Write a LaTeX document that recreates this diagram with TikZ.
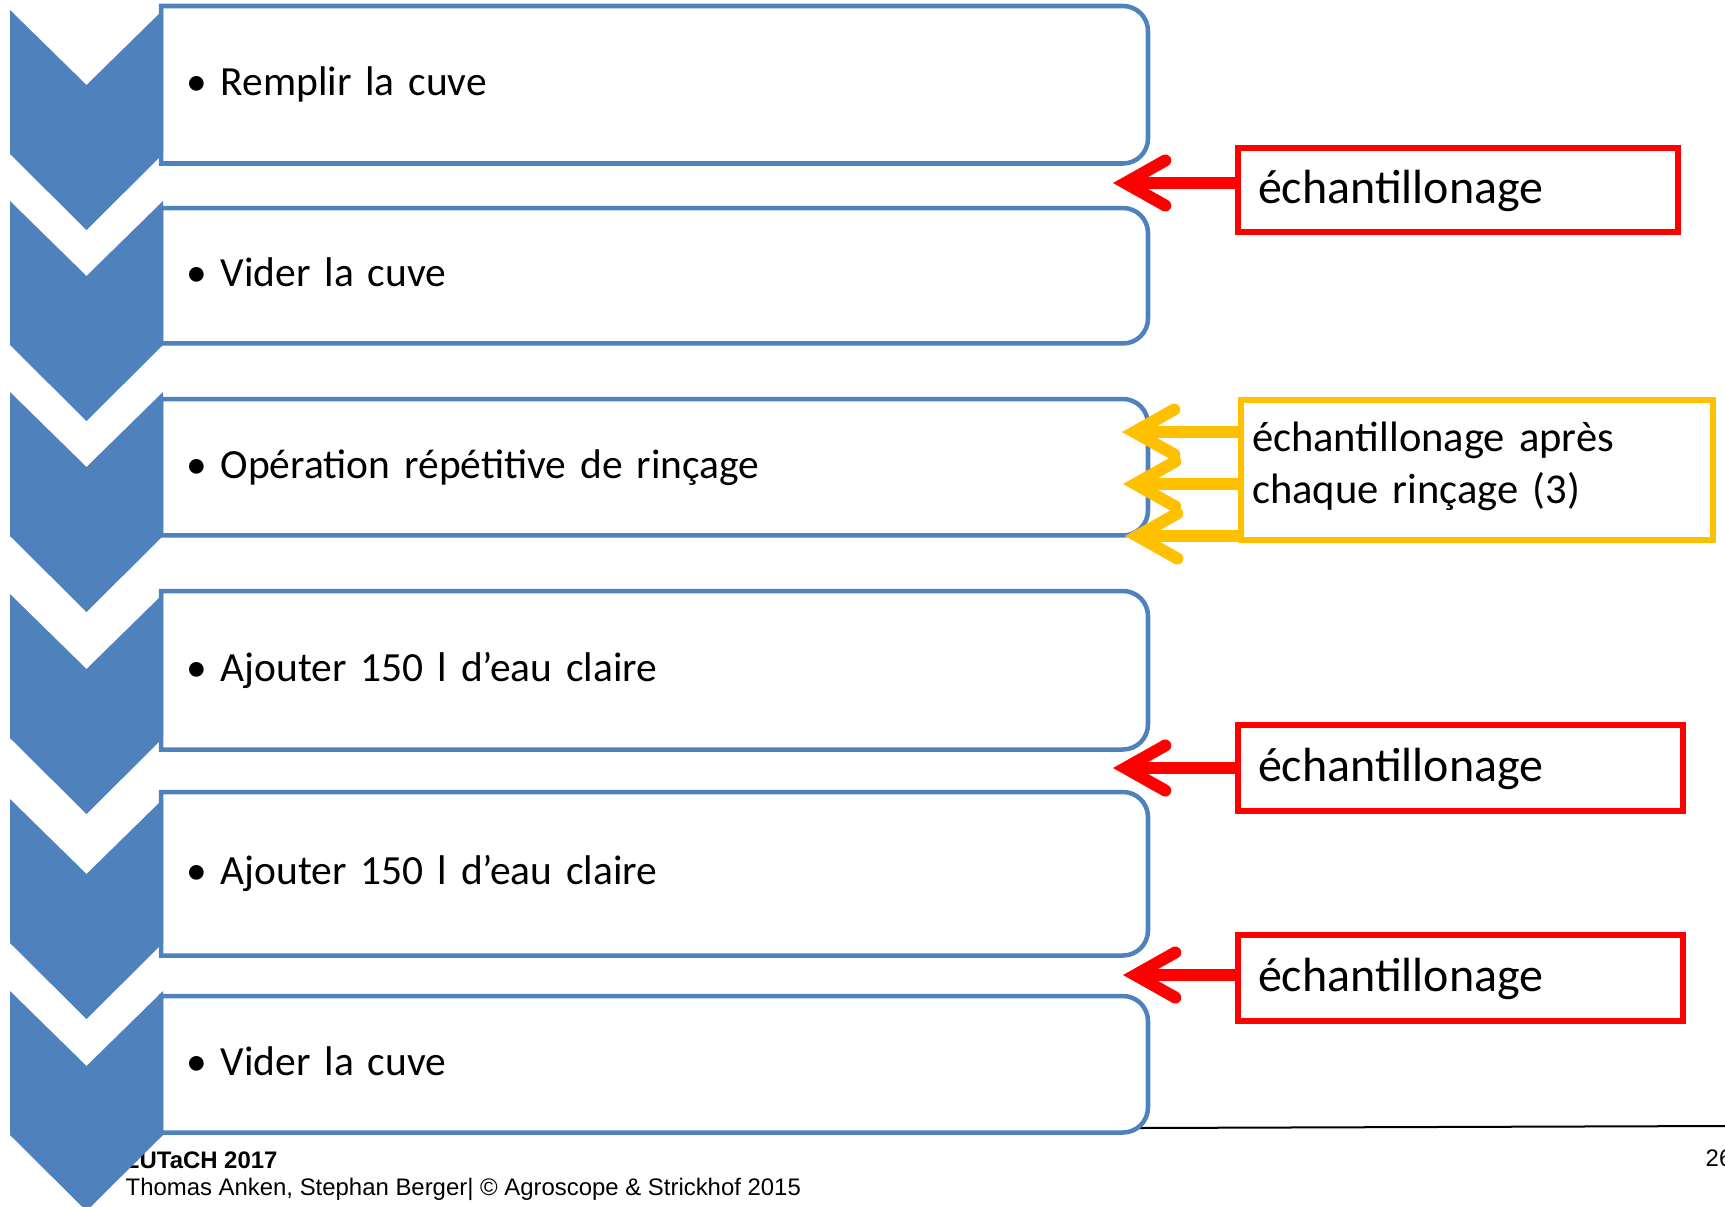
\documentclass[tikz,border=0pt]{standalone}
\usepackage{fontspec}
\setmainfont{Carlito}
\newfontfamily\footfont{Liberation Sans}
\usetikzlibrary{arrows.meta}
\usetikzlibrary{positioning}
\definecolor{stepblue}{HTML}{4F81BD}
\definecolor{markred}{HTML}{FF0000}
\definecolor{markyellow}{HTML}{FFC000}

\begin{document}
\begin{tikzpicture}[x=0.01cm,y=-0.01cm,
stepbox/.style={anchor=north west,inner xsep=0.25cm,inner ysep=0pt,text width=9.35cm,align=left,font=\fontsize{11.8}{14.2}\selectfont,text height=1.7ex,text depth=0.4ex},
stepline/.style={draw=stepblue,line width=0.045cm},
chevron/.style={fill=stepblue},
sample/.style={draw=markred,line width=0.06cm,anchor=west,text width=4.05cm,inner xsep=0.2cm,minimum height=0.86cm,align=left,font=\fontsize{13.65}{16}\selectfont,text height=1.9ex,text depth=0.25ex},
rinsesample/.style={draw=markyellow,line width=0.06cm,anchor=north west,text width=4.5cm,inner xsep=0.11cm,minimum height=1.40cm,align=left,font=\fontsize{12.1}{14.8}\selectfont,text height=0.32cm,text depth=0.70cm},
redarrow/.style={draw=markred,line width=0.12cm,-{Straight Barb[length=0.4cm,width=0.45cm,line cap=round]}},
yellowarrow/.style={redarrow,draw=markyellow},
foot/.style={anchor=base west,inner sep=0pt,font=\footfont\fontsize{6.8}{8}\selectfont},
footbold/.style={foot,font=\footfont\bfseries\fontsize{6.8}{8}\selectfont}]
\useasboundingbox (0,0) rectangle (1725,1206);

% footer
\node[footbold] (event) at (123,1168) {EUTaCH 2017};
\node[foot] (authors) at (125,1195) {Thomas Anken, Stephan Berger| © Agroscope \& Strickhof 2015};
\node[foot] (page) at (1705,1166) {26};
\draw[black,line width=0.02cm] (1138,1128) -- (1725,1126);

% chevrons
\foreach \t in {10,201,392,594,799,991}
  \fill[chevron] (10,\t) -- ++(76.5,75) -- ++(76.5,-75) -- ++(0,144) -- ++(-76.5,76) -- ++(-76.5,-76) -- cycle;

% steps
\node[stepbox,minimum height=1.56cm] (s1) at (161,6) {\makebox[0.34cm][l]{•}Remplir la cuve};
\node[stepbox,minimum height=1.34cm] (s2) at (161,208) {\makebox[0.34cm][l]{•}Vider la cuve};
\node[stepbox,minimum height=1.35cm] (s3) at (161,399) {\makebox[0.34cm][l]{•}Opération répétitive de rinçage};
\node[stepbox,minimum height=1.57cm] (s4) at (161,591) {\makebox[0.34cm][l]{•}Ajouter 150 l d’eau claire};
\node[stepbox,minimum height=1.62cm] (s5) at (161,792) {\makebox[0.34cm][l]{•}Ajouter 150 l d’eau claire};
\node[stepbox,minimum height=1.35cm] (s6) at (161,996) {\makebox[0.34cm][l]{•}Vider la cuve};
\foreach \n in {s1,s2,s3,s4,s5,s6}
  \draw[stepline] (\n.south west) -- (\n.north west) -- ([xshift=-0.25cm]\n.north east) arc[start angle=90,end angle=0,radius=0.25cm] -- ([yshift=0.25cm]\n.south east) arc[start angle=0,end angle=-90,radius=0.25cm] -- cycle;

% sampling
\node[sample,text width=4.0cm,minimum height=0.83cm] (r1) at (1235,190) {échantillonage};
\node[sample] (r2) at (1235,768) {échantillonage};
\node[sample] (r3) at (1235,978) {échantillonage};
\node[rinsesample] (y1) at (1238,397) {échantillonage après\\chaque rinçage (3)};

\coordinate (tip1) at (1113,183);
\coordinate (tip2) at (1113,768);
\coordinate (tip3) at (1123,975);
\coordinate (ytip1) at (1122,432);
\coordinate (ytip2) at (1123,484);
\coordinate (ytip3) at (1125,536);
\draw[redarrow] (r1.west |- tip1) -- (tip1);
\draw[redarrow] (r2.west |- tip2) -- (tip2);
\draw[redarrow] (r3.west |- tip3) -- (tip3);
\draw[yellowarrow] (y1.west |- ytip1) -- (ytip1);
\draw[yellowarrow] (y1.west |- ytip2) -- (ytip2);
\draw[yellowarrow] (y1.west |- ytip3) -- (ytip3);

\end{tikzpicture}
\end{document}
